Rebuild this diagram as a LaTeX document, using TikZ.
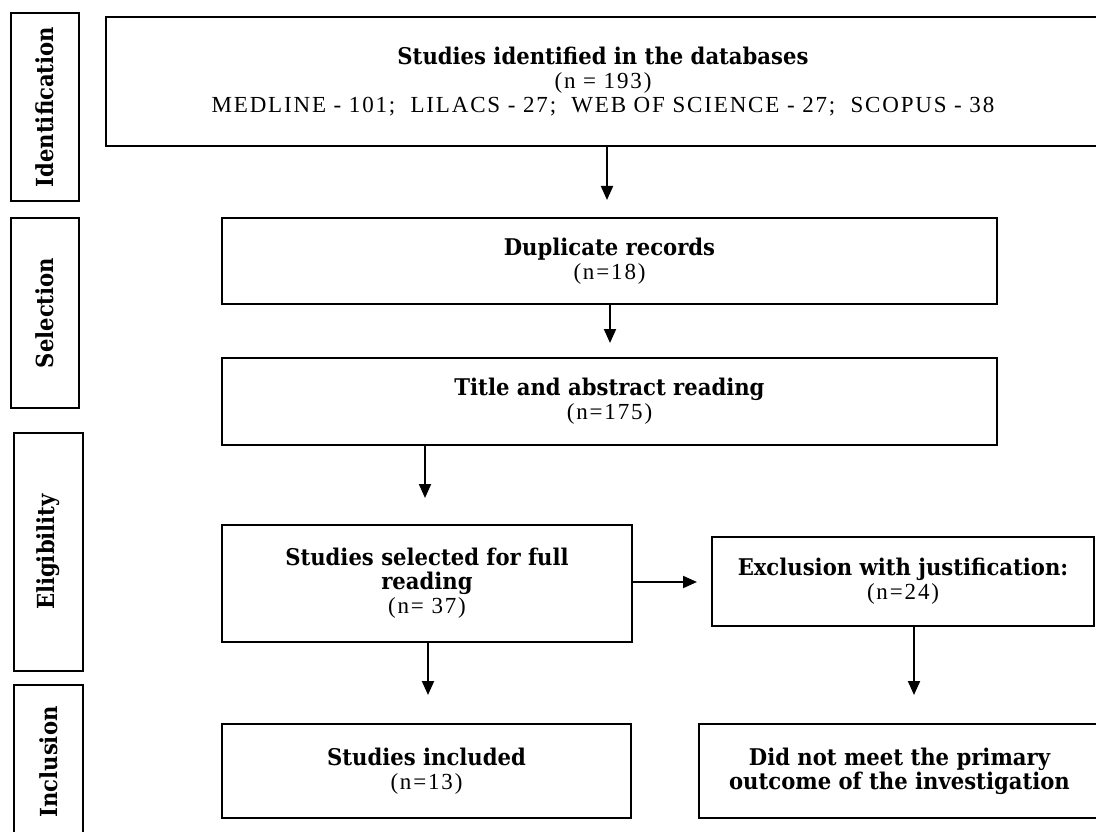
\documentclass[tikz,border=0pt]{standalone}
\usepackage{fontspec}
\setmainfont{Liberation Serif}[LetterSpace=8]
\newfontfamily\slab{DejaVu Serif}[FakeStretch=0.92]
\newfontfamily\slablab{DejaVu Serif}[FakeStretch=0.9]
\usetikzlibrary{arrows.meta}
\newcommand{\hd}[1]{{\slab\bfseries #1}}
\tikzset{
  box/.style={draw, line width=2.6pt, inner sep=0pt, align=center,
    font=\fontsize{23}{24}\selectfont},
  lab/.style={draw, line width=1.8pt, inner sep=0pt, rotate=90,
    font=\slablab\bfseries\fontsize{23.5}{24}\selectfont},
  arr/.style={line width=2pt, -{Triangle[length=14pt,width=12pt]}}
}
\begin{document}
\begin{tikzpicture}[x=1pt,y=-1pt]
\useasboundingbox[fill=white] (0,0) rectangle (1096,832);
% phase labels
\node[lab, minimum width=188pt, minimum height=68pt] (lident) at (45,107) {Identification};
\node[lab, minimum width=190pt, minimum height=68pt] (lsel) at (45,313) {Selection};
\node[lab, minimum width=238pt, minimum height=69pt] (lelig) at (48.5,552) {Eligibility};
\node[lab, minimum width=154pt, minimum height=69pt] (lincl) at (48.5,762) {Inclusion};
% boxes
\node[box, minimum width=994pt, minimum height=129pt] (top) at (603,81.5)
  {\hd{Studies identified in the databases}\\(n = 193)\\MEDLINE - 101;\ \ LILACS - 27;\ \ WEB OF SCIENCE - 27;\ \ SCOPUS - 38};
\node[box, minimum width=775pt, minimum height=86pt] (dup) at (609.5,261)
  {\hd{Duplicate records}\\(n=18)};
\node[box, minimum width=775pt, minimum height=87pt] (title) at (609.5,401.5)
  {\hd{Title and abstract reading}\\(n=175)};
\node[box, minimum width=410pt, minimum height=117pt] (sel) at (427,583.5)
  {\hd{Studies selected for full}\\\hd{reading}\\(n= 37)};
\node[box, minimum width=382pt, minimum height=89pt] (excl) at (903,581.5)
  {\hd{Exclusion with justification:}\\(n=24)};
\node[box, minimum width=409pt, minimum height=94pt] (incl) at (426.5,771)
  {\hd{Studies included}\\(n=13)};
\node[box, minimum width=401pt, minimum height=94pt] (notmet) at (899.5,771)
  {\hd{Did not meet the primary}\\\hd{outcome of the investigation}};
% arrows
\coordinate (t1) at (607,200);
\coordinate (t2) at (610,343);
\coordinate (t3) at (425,498);
\coordinate (t4) at (697,582);
\coordinate (t5) at (428,695);
\coordinate (t6) at (914,695);
\draw[arr] (top.south -| t1) -- (t1);
\draw[arr] (dup.south -| t2) -- (t2);
\draw[arr] (title.south -| t3) -- (t3);
\draw[arr] (sel.east |- t4) -- (t4);
\draw[arr] (sel.south -| t5) -- (t5);
\draw[arr] (excl.south -| t6) -- (t6);
\end{tikzpicture}
\end{document}
